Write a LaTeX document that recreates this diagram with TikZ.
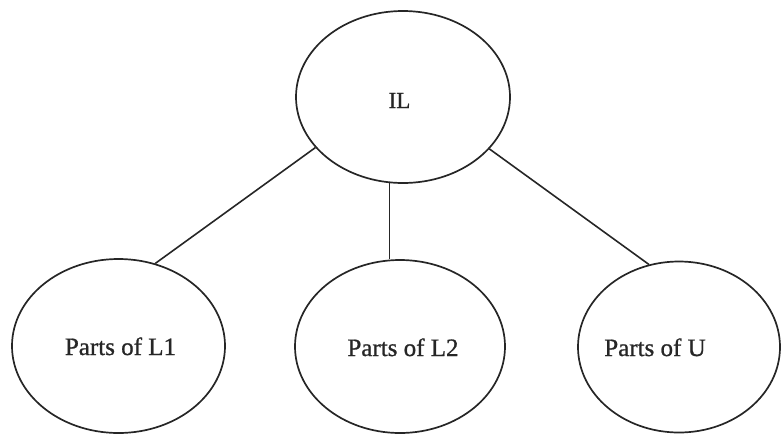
\documentclass[tikz,border=0pt]{standalone}
\usepackage{fontspec}
\setmainfont{Liberation Serif}
% slightly heavier regular face for the labels
\newfontfamily\labelface[FakeBold=0.9]{Liberation Serif}
\usetikzlibrary{shapes.geometric}

\tikzset{
  blob/.style={draw=black!85, line width=1.7pt, ellipse, inner sep=0pt},
  tag/.style={anchor=base, inner sep=0pt, font=\labelface\fontsize{25}{29}\selectfont, text=black!85},
  toptag/.style={tag, font=\labelface\fontsize{23}{27}\selectfont},
  link/.style={draw=black!85, line width=1.6pt}
}

\begin{document}
\begin{tikzpicture}[x=1pt, y=-1pt]
  \useasboundingbox (0,0) rectangle (782,437);

  % root and its three parts
  \node[blob, minimum width=214pt, minimum height=172pt] (IL) at (403,97) {};
  \node[blob, minimum width=213pt, minimum height=174pt] (L1) at (118.5,346) {};
  \node[blob, minimum width=210pt, minimum height=173pt] (L2) at (400,346.5) {};
  \node[blob, minimum width=202pt, minimum height=171pt] (U)  at (679,347) {};

  % labels
  \node[toptag] (tIL) at (399.5,108) {IL};
  \node[tag] (tL1) at (120.5,355) {Parts of L1};
  \node[tag] (tL2) at (403,356) {Parts of L2};
  \node[tag] (tU)  at (655,356) {Parts of U};

  % connectors
  \draw[link] (IL.210) -- (L1.66);
  \draw[link] (IL.261) -- (IL.261 |- L2.north);
  \draw[link] (IL.329) -- (U.110);
\end{tikzpicture}
\end{document}
